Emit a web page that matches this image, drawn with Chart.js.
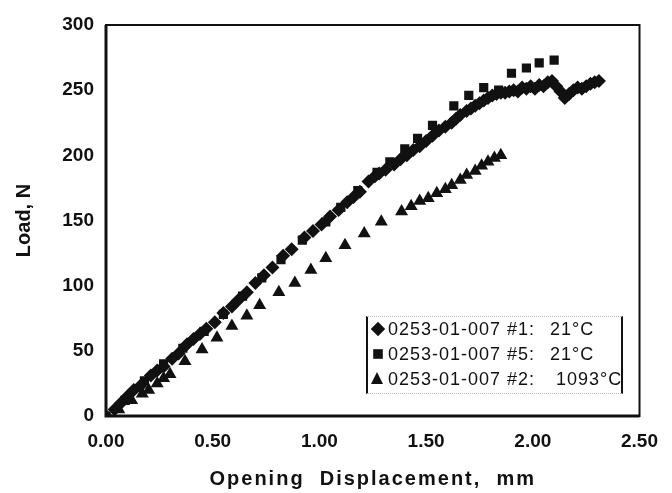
<!DOCTYPE html>
<html><head><meta charset="utf-8">
<script src="https://cdn.jsdelivr.net/npm/chart.js@4"></script>
<style>
html,body{margin:0;padding:0;background:#fff;}
#wrap{position:relative;width:672px;height:493px;}
#legend{position:absolute;left:366px;top:316px;width:253px;height:76px;border-left:2px solid #111;border-right:2px solid #111;border-top:1px dotted #bbb;border-bottom:1px dotted #bbb;font-family:"Liberation Sans",Arial,sans-serif;font-size:18px;letter-spacing:1px;color:#111;}
.row{position:absolute;left:0;width:253px;height:22px;line-height:22px;white-space:nowrap;}
.mk{position:absolute;left:4px;top:5px;width:12px;height:12px;}
.lab{position:absolute;left:20px;top:0;}
.val{position:absolute;left:182px;top:0;}
</style>
</head><body>
<div id="wrap">
<canvas id="c" width="672" height="493"></canvas>
<div id="legend"></div>
</div>
<script>
// ---- data ----
const seriesNames = ["0253-01-007 #1:", "0253-01-007 #5:", "0253-01-007 #2:"];
const seriesTemps = ["21°C", "21°C", "1093°C"];

const xs1 = [0.00,0.04,0.07,0.10,0.13,0.16,0.21,0.24,0.27,0.31,
  0.34,0.38,0.41,0.44,0.47,0.51,0.55,0.59,0.62,0.66,
  0.70,0.74,0.78,0.83,0.87,0.93,0.97,1.01,1.05,1.09,
  1.13,1.16,1.19,1.23,1.26,1.28,1.31,1.35,1.38,1.41,
  1.44,1.47,1.50,1.53,1.56,1.59,1.62,1.64,1.66,1.69,
  1.71,1.73,1.75,1.77,1.79,1.81,1.83,1.85,1.87,1.89,
  1.91,1.93,1.95,1.97,1.99,2.01,2.03,2.05,2.07,2.09,
  2.11,2.13,2.15,2.17,2.19,2.21,2.23,2.25,2.27,2.29,
  2.31];
const ys1 = [0,5,10,15,20,23,31,35,38,44,
  48,55,59,63,67,72,79,84,89,95,
  102,108,114,123,128,137,142,147,153,158,
  164,168,172,180,184,186,189,193,197,200,
  204,207,211,215,219,222,225,228,231,234,
  236,238,240,242,244,246,247,248,248,249,
  250,249,252,251,253,251,254,253,256,257,
  253,249,244,247,250,252,251,253,255,256,
  257];

const xs5 = [0.00,0.09,0.18,0.27,0.36,0.46,0.55,0.64,0.73,0.82,
  0.92,1.03,1.10,1.18,1.27,1.33,1.40,1.46,1.53,1.63,
  1.70,1.77,1.84,1.90,1.97,2.03,2.10];
const ys5 = [0,12,27,40,52,65,78,92,106,120,
  135,149,160,173,187,195,205,213,223,238,
  246,252,250,263,267,271,273];

const xs2 = [0.00,0.06,0.12,0.17,0.20,0.24,0.27,0.30,0.37,0.45,
  0.52,0.59,0.66,0.72,0.81,0.885,0.96,1.03,1.12,1.21,
  1.29,1.385,1.43,1.47,1.51,1.55,1.59,1.62,1.66,1.69,
  1.73,1.76,1.79,1.82,1.85];
const ys2 = [0,5,12,17,20,25,29,32,42,51,
  60,69,77,85,95,102,112,121,131,140,
  149,157,161,165,167,171,174,177,181,185,
  188,192,195,198,200];

const xTickValues = [0, 0.5, 1, 1.5, 2, 2.5];
const yTickValues = [0, 50, 100, 150, 200, 250, 300];
const xTitle = "Opening  Displacement,  mm";
const yTitle = "Load, N";

// ---- build ----
const pts = (xs, ys) => xs.map((x, i) => ({x: x, y: ys[i]}));
const INK = '#111';
const FONT = '"Liberation Sans", Arial, sans-serif';

const framePlugin = {
  id: 'frame',
  afterDatasetsDraw(chart) {
    const a = chart.chartArea, ctx = chart.ctx;
    ctx.save();
    ctx.strokeStyle = INK;
    ctx.lineWidth = 2;
    ctx.strokeRect(a.left, a.top, a.right - a.left, a.bottom - a.top);
    ctx.lineWidth = 3;
    ctx.beginPath();
    ctx.moveTo(a.left, a.top); ctx.lineTo(a.left, a.bottom); ctx.lineTo(a.right, a.bottom);
    ctx.stroke();
    ctx.restore();
  },
  afterLayout(chart) {
    const xs = chart.scales.x;
    if (!xs._patched) {
      const orig = xs.drawTitle.bind(xs);
      xs.drawTitle = function () {
        const ctx = this.ctx;
        ctx.save();
        ctx.letterSpacing = '2px';
        orig();
        ctx.restore();
      };
      xs._patched = true;
    }
  }
};

new Chart(document.getElementById('c'), {
  type: 'scatter',
  data: {
    datasets: [
      {label: seriesNames[0] + ' ' + seriesTemps[0], data: pts(xs1, ys1), pointStyle: 'rectRot', pointRadius: 7,
       backgroundColor: INK, borderColor: INK, borderWidth: 0},
      {label: seriesNames[1] + ' ' + seriesTemps[1], data: pts(xs5, ys5), pointStyle: 'rect', pointRadius: 6.5,
       backgroundColor: INK, borderColor: INK, borderWidth: 0},
      {label: seriesNames[2] + ' ' + seriesTemps[2], data: pts(xs2, ys2), pointStyle: 'triangle', pointRadius: 7.5,
       backgroundColor: INK, borderColor: INK, borderWidth: 0}
    ]
  },
  options: {
    responsive: false,
    animation: false,
    layout: {padding: {top: 25, right: 27, left: 0, bottom: 0}},
    plugins: {legend: {display: false}, tooltip: {enabled: false}},
    scales: {
      x: {
        type: 'linear', min: 0, max: 2.5,
        afterBuildTicks: s => { s.ticks = xTickValues.map(v => ({value: v})); },
        afterFit: s => { s.height = 77; },
        grid: {display: false, drawTicks: false},
        border: {display: false},
        ticks: {color: INK, padding: 14, font: {family: FONT, size: 19, weight: 'bold'},
                callback: v => Number(v).toFixed(2), maxRotation: 0, autoSkip: false},
        title: {display: true, text: xTitle, color: INK, padding: {top: 0, bottom: 2},
                font: {family: FONT, size: 20, weight: 'bold'}}
      },
      y: {
        type: 'linear', min: 0, max: 300,
        afterBuildTicks: s => { s.ticks = yTickValues.map(v => ({value: v})); },
        afterFit: s => { s.width = 106; },
        grid: {display: false, drawTicks: false},
        border: {display: false},
        ticks: {color: INK, padding: 12, font: {family: FONT, size: 19, weight: 'bold'}, autoSkip: false},
        title: {display: true, text: yTitle, color: INK, padding: {top: 12, bottom: 0},
                font: {family: FONT, size: 20, weight: 'bold'}}
      }
    }
  },
  plugins: [framePlugin]
});

// ---- legend (HTML, inside plot area) ----
const shapes = [
  'background:#111;transform:rotate(45deg) scale(0.85);',
  'background:#111;transform:scale(0.8);',
  'width:0;height:0;border-left:6.5px solid transparent;border-right:6.5px solid transparent;border-bottom:12px solid #111;background:none;left:3px;top:4px;'
];
const leg = document.getElementById('legend');
seriesNames.forEach((n, i) => {
  const r = document.createElement('div');
  r.className = 'row';
  r.style.top = (1 + i * 25) + 'px';
  r.innerHTML = '<div class="mk" style="' + shapes[i] + '"></div><span class="lab">' + n +
    '</span><span class="val"' + (i === 2 ? ' style="left:188px"' : '') + '>' + seriesTemps[i] + '</span>';
  leg.appendChild(r);
});
</script>
</body></html>
